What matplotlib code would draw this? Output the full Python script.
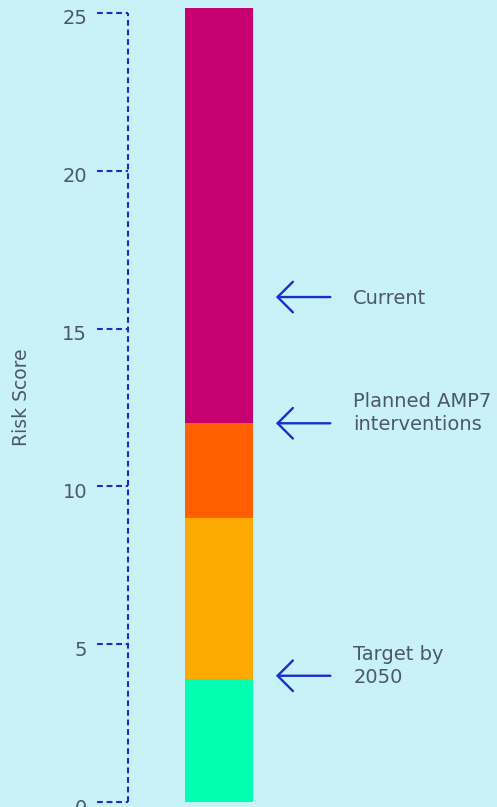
import matplotlib.pyplot as plt
from matplotlib import transforms

# risk score bands, stacked from the bottom up
band_names = ["Target", "Low", "Planned", "Current"]
band_heights = [3.9, 5.1, 3.0, 13.15]
band_colors = ["#00ffb0", "#ffaa00", "#ff5f00", "#c6006e"]

# arrow markers on the right of the bar
marker_values = [16, 12, 4]
marker_labels = ["Current", "Planned AMP7\ninterventions", "Target by\n2050"]

yticks = [0, 5, 10, 15, 20, 25]

bg = "#c8f2f8"
blue = "#1530d0"
grey = "#4d5864"

plt.rcParams['font.family'] = ['DejaVu Sans']

fig = plt.figure(figsize=(4.97, 8.07), dpi=100, facecolor=bg)
ax = fig.add_axes([128 / 497, 5 / 807, 369 / 497, 802 / 807], facecolor=bg)

bottom = 0
for h, c in zip(band_heights, band_colors):
    ax.bar(0, h, width=0.8, bottom=bottom, color=c, linewidth=0)
    bottom += h

ax.set_xlim(-1.07, 3.27)
ax.set_ylim(0, 802 / 31.56)

# arrows and their labels
for v, lab in zip(marker_values, marker_labels):
    ax.annotate("", xy=(0.67, v), xytext=(1.31, v),
                arrowprops=dict(arrowstyle="->,head_length=1.1,head_width=1.1",
                                color=blue, lw=1.7, shrinkA=0, shrinkB=0))
    ax.text(1.58, v - 0.22, lab, color=grey, fontsize=14, va="baseline",
            ha="left", linespacing=1.25)

# dashed axis line and dashed tick marks
for s in ["top", "right", "bottom", "left"]:
    ax.spines[s].set_visible(False)
dash = (0, (2.8, 1.8))
trans = transforms.blended_transform_factory(ax.transAxes, ax.transData)
ax.plot([0, 0], [0, 25], transform=trans, color=blue, lw=1.5,
        linestyle=dash, clip_on=False)
for t in yticks:
    ax.plot([-0.084, 0], [t, t], transform=trans, color=blue, lw=1.5,
            linestyle=dash, clip_on=False)

ax.set_xticks([])
ax.set_yticks(yticks)
ax.tick_params(axis="y", length=0, pad=29.5, labelsize=14, labelcolor=grey)
# tick labels sit a little below their dashes
nudge = transforms.ScaledTranslation(0, -0.04, fig.dpi_scale_trans)
for lbl in ax.get_yticklabels():
    lbl.set_transform(lbl.get_transform() + nudge)

ax.set_ylabel("Risk Score", fontsize=13.5, color=grey)
ax.yaxis.set_label_coords(-0.262, 0.505)

fig.savefig("out.png", facecolor=bg)
